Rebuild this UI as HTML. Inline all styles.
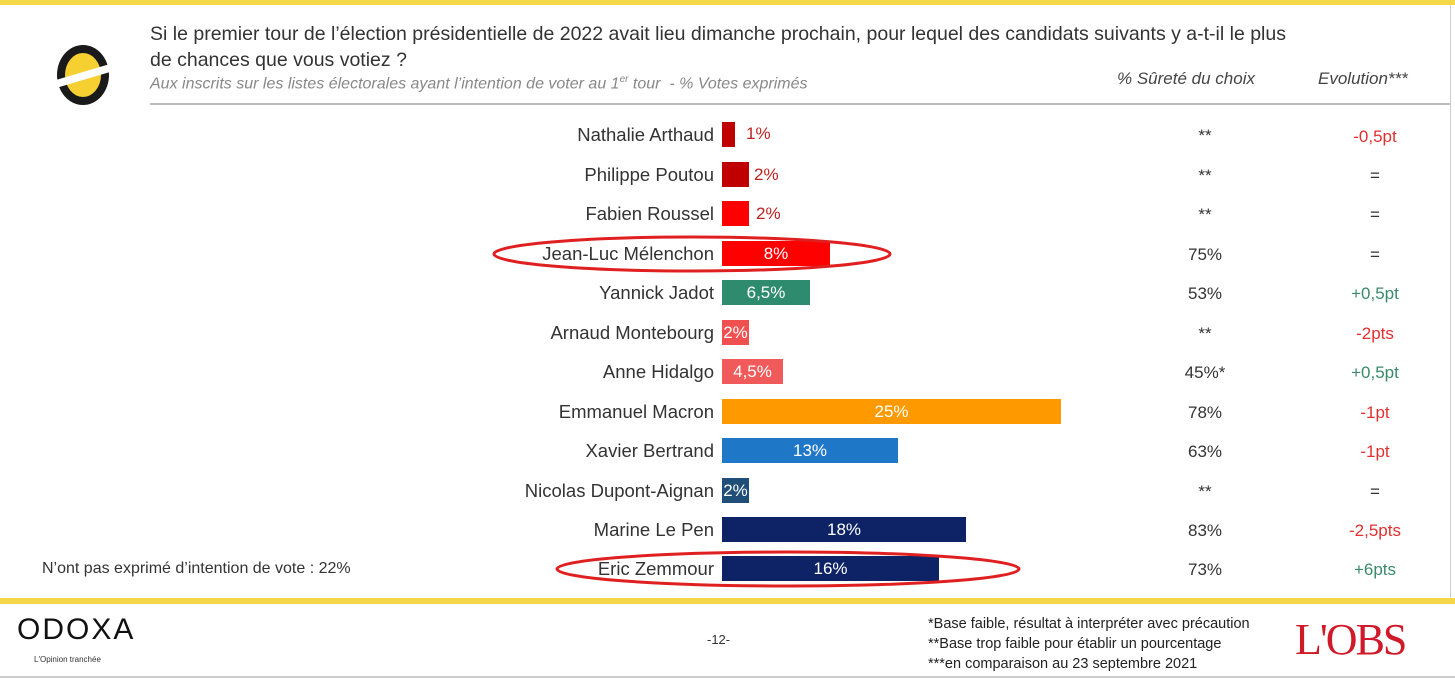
<!DOCTYPE html>
<html><head><meta charset="utf-8"><style>
body{margin:0;width:1455px;height:678px;background:#fff;position:relative;overflow:hidden;font-family:"Liberation Sans",sans-serif;}
.a{position:absolute;white-space:nowrap;}
.n{right:741px;font-size:18.5px;color:#333;}
.b{position:absolute;left:722px;height:25px;color:#fff;font-size:17px;text-align:center;line-height:25px;}
.o{font-size:17px;color:#b22;}
.s{left:1170px;width:70px;text-align:center;font-size:17px;color:#333;}
.e{left:1330px;width:90px;text-align:center;font-size:17px;}
.r{color:#e03030}.g{color:#3a8a6a}.k{color:#333}
</style></head><body>
<div class="a" style="left:0;top:0;width:1455px;height:5px;background:#f5d84a"></div>
<div class="a" style="left:0;top:598px;width:1455px;height:6px;background:#f5d84a"></div>
<div class="a" style="left:1450px;top:5px;width:1px;height:593px;background:#ccc"></div>
<div class="a" style="left:0;top:676px;width:1455px;height:2px;background:#ccc"></div>
<div class="a" style="left:150px;top:103px;width:1300px;height:2px;background:#bbb"></div>
<svg class="a" style="left:52px;top:40px" width="62" height="70"><ellipse cx="31" cy="35" rx="26" ry="30" fill="#1a1a1a"/><ellipse cx="31" cy="35" rx="18" ry="22" fill="#f5d030"/><polygon points="4,40 58,24 58,32 4,48" fill="#fff"/></svg>
<div class="a" style="left:150px;top:21px;font-size:19.5px;color:#333;line-height:26px">Si le premier tour de l’élection présidentielle de 2022 avait lieu dimanche prochain, pour lequel des candidats suivants y a-t-il le plus<br>de chances que vous votiez ?</div>
<div class="a" style="left:150px;top:74px;font-size:16px;color:#888;font-style:italic">Aux inscrits sur les listes électorales ayant l’intention de voter au 1<sup style="font-size:10px">er</sup> tour&nbsp; - % Votes exprimés</div>
<div class="a" style="left:1117px;top:69px;font-size:17px;color:#444;font-style:italic">% Sûreté du choix</div>
<div class="a" style="left:1318px;top:69px;font-size:17px;color:#444;font-style:italic">Evolution***</div>

<div class="a n" style="top:124px">Nathalie Arthaud</div><div class="b" style="top:122px;width:13px;background:#c00000"></div><div class="a o" style="left:746px;top:124px">1%</div><div class="a s" style="top:126px">**</div><div class="a e r" style="top:127px">-0,5pt</div>
<div class="a n" style="top:164px">Philippe Poutou</div><div class="b" style="top:162px;width:27px;background:#c00000"></div><div class="a o" style="left:754px;top:165px">2%</div><div class="a s" style="top:166px">**</div><div class="a e k" style="top:166px">=</div>
<div class="a n" style="top:203px">Fabien Roussel</div><div class="b" style="top:201px;width:27px;background:#ff0000"></div><div class="a o" style="left:756px;top:204px">2%</div><div class="a s" style="top:205px">**</div><div class="a e k" style="top:205px">=</div>
<div class="a n" style="top:243px">Jean-Luc Mélenchon</div><div class="b" style="top:241px;width:108px;background:#ff0000">8%</div><div class="a s" style="top:245px">75%</div><div class="a e k" style="top:245px">=</div>
<div class="a n" style="top:282px">Yannick Jadot</div><div class="b" style="top:280px;width:88px;background:#2e8b6e">6,5%</div><div class="a s" style="top:284px">53%</div><div class="a e g" style="top:284px">+0,5pt</div>
<div class="a n" style="top:322px">Arnaud Montebourg</div><div class="b" style="top:320px;width:27px;background:#f05050">2%</div><div class="a s" style="top:324px">**</div><div class="a e r" style="top:324px">-2pts</div>
<div class="a n" style="top:361px">Anne Hidalgo</div><div class="b" style="top:359px;width:61px;background:#f05a5a">4,5%</div><div class="a s" style="top:363px">45%*</div><div class="a e g" style="top:363px">+0,5pt</div>
<div class="a n" style="top:401px">Emmanuel Macron</div><div class="b" style="top:399px;width:339px;background:#ff9900">25%</div><div class="a s" style="top:403px">78%</div><div class="a e r" style="top:403px">-1pt</div>
<div class="a n" style="top:440px">Xavier Bertrand</div><div class="b" style="top:438px;width:176px;background:#1f77c8">13%</div><div class="a s" style="top:442px">63%</div><div class="a e r" style="top:442px">-1pt</div>
<div class="a n" style="top:480px">Nicolas Dupont-Aignan</div><div class="b" style="top:478px;width:27px;background:#1f4e79">2%</div><div class="a s" style="top:482px">**</div><div class="a e k" style="top:482px">=</div>
<div class="a n" style="top:519px">Marine Le Pen</div><div class="b" style="top:517px;width:244px;background:#0d2366">18%</div><div class="a s" style="top:521px">83%</div><div class="a e r" style="top:521px">-2,5pts</div>
<div class="a n" style="top:558px">Eric Zemmour</div><div class="b" style="top:556px;width:217px;background:#0d2366">16%</div><div class="a s" style="top:560px">73%</div><div class="a e g" style="top:560px">+6pts</div>
<div class="a" style="left:42px;top:560px;font-size:16px;color:#333">N’ont pas exprimé d’intention de vote : 22%</div>
<svg class="a" style="left:0;top:0" width="1455" height="678"><ellipse cx="692" cy="254" rx="198" ry="17" fill="none" stroke="#e02020" stroke-width="3"/><ellipse cx="788" cy="569" rx="231" ry="17" fill="none" stroke="#e02020" stroke-width="3"/></svg>
<div class="a" style="left:17px;top:613px;font-size:30px;letter-spacing:2px;color:#111">ODOXA</div>
<div class="a" style="left:34px;top:655px;font-size:8px;color:#333">L'Opinion tranchée</div>
<div class="a" style="left:707px;top:632px;font-size:13px;color:#333">-12-</div>
<div class="a" style="left:928px;top:614px;font-size:14.5px;color:#222;line-height:20px">*Base faible, résultat à interpréter avec précaution<br>**Base trop faible pour établir un pourcentage<br>***en comparaison au 23 septembre 2021</div>
<div class="a" style="left:1295px;top:614px;font-size:44px;color:#d01a2a;font-family:'Liberation Serif',serif;letter-spacing:-2px">L'OBS</div>
</body></html>
